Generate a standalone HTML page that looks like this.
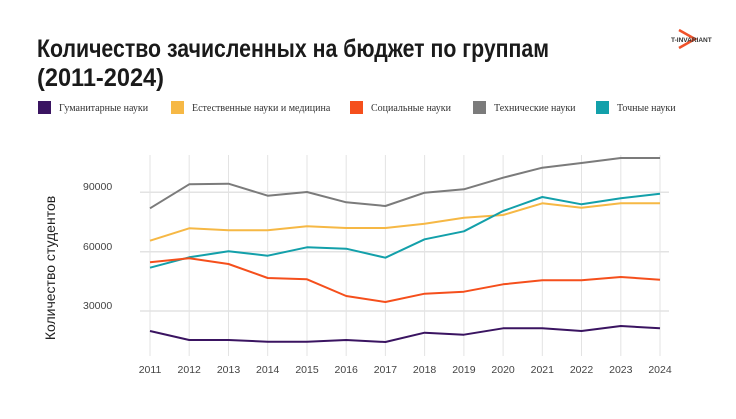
<!DOCTYPE html>
<html><head><meta charset="utf-8"><style>
body{margin:0;background:#fff;width:736px;height:414px;overflow:hidden;font-family:"Liberation Sans",sans-serif}
</style></head><body>
<svg width="736" height="414" xmlns="http://www.w3.org/2000/svg">
<text x="37" y="57" font-family="Liberation Sans, sans-serif" font-size="25" font-weight="bold" fill="#1a1a1a" textLength="512" lengthAdjust="spacingAndGlyphs">Количество зачисленных на бюджет по группам</text>
<text x="37" y="86" font-family="Liberation Sans, sans-serif" font-size="25" font-weight="bold" fill="#1a1a1a" textLength="127" lengthAdjust="spacingAndGlyphs">(2011-2024)</text>
<g transform="translate(671,30)">
<path d="M8 0 L24 9 L8 18" fill="none" stroke="#f0522a" stroke-width="2.5"/>
<text x="0" y="12" font-size="6.5" font-weight="bold" fill="#333">T-INVARIANT</text>
</g>
<g font-family="Liberation Serif, serif" font-size="10" fill="#333">
<rect x="38" y="101" width="13" height="13" fill="#3a1461"/><text x="59" y="111">Гуманитарные науки</text>
<rect x="171" y="101" width="13" height="13" fill="#f6b845"/><text x="192" y="111">Естественные науки и медицина</text>
<rect x="350" y="101" width="13" height="13" fill="#f54f1c"/><text x="371" y="111">Социальные науки</text>
<rect x="473" y="101" width="13" height="13" fill="#7b7b7b"/><text x="494" y="111">Технические науки</text>
<rect x="596" y="101" width="13" height="13" fill="#13a0aa"/><text x="617" y="111">Точные науки</text>
</g>
<g stroke="#e3e3e3" stroke-width="1">
<line x1="150" y1="155" x2="150" y2="356"/><line x1="189.2" y1="155" x2="189.2" y2="356"/><line x1="228.5" y1="155" x2="228.5" y2="356"/><line x1="267.7" y1="155" x2="267.7" y2="356"/><line x1="307" y1="155" x2="307" y2="356"/><line x1="346.2" y1="155" x2="346.2" y2="356"/><line x1="385.4" y1="155" x2="385.4" y2="356"/><line x1="424.6" y1="155" x2="424.6" y2="356"/><line x1="463.9" y1="155" x2="463.9" y2="356"/><line x1="503.1" y1="155" x2="503.1" y2="356"/><line x1="542.3" y1="155" x2="542.3" y2="356"/><line x1="581.5" y1="155" x2="581.5" y2="356"/><line x1="620.8" y1="155" x2="620.8" y2="356"/><line x1="660" y1="155" x2="660" y2="356"/>
<line x1="140" y1="192.3" x2="669" y2="192.3" stroke-width="1.5"/><line x1="140" y1="251.7" x2="669" y2="251.7" stroke-width="1.5"/><line x1="140" y1="311" x2="669" y2="311" stroke-width="1.5"/>
</g>
<g font-size="10.5" fill="#444">
<text x="83" y="190">90000</text><text x="83" y="250">60000</text><text x="83" y="309">30000</text>
</g>
<g font-size="10.5" fill="#444" text-anchor="middle">
<text x="150" y="373">2011</text><text x="189.2" y="373">2012</text><text x="228.5" y="373">2013</text><text x="267.7" y="373">2014</text><text x="307" y="373">2015</text><text x="346.2" y="373">2016</text><text x="385.4" y="373">2017</text><text x="424.6" y="373">2018</text><text x="463.9" y="373">2019</text><text x="503.1" y="373">2020</text><text x="542.3" y="373">2021</text><text x="581.5" y="373">2022</text><text x="620.8" y="373">2023</text><text x="660" y="373">2024</text>
</g>
<text transform="translate(55,268) rotate(-90)" text-anchor="middle" font-size="14" fill="#222">Количество студентов</text>
<g fill="none" stroke-width="2" stroke-linejoin="round">
<polyline stroke="#7b7b7b" points="150,208.3 189.2,184.3 228.5,183.7 267.7,195.7 307,192 346.2,202.3 385.4,206 424.6,192.7 463.9,189.3 503.1,177.7 542.3,167.7 581.5,163 620.8,158 660,158"/>
<polyline stroke="#f6b845" points="150,240.7 189.2,228.3 228.5,230.3 267.7,230.3 307,226.3 346.2,228 385.4,228 424.6,223.7 463.9,217.7 503.1,215 542.3,203.3 581.5,207.7 620.8,203.3 660,203.3"/>
<polyline stroke="#13a0aa" points="150,267.7 189.2,257.3 228.5,251.3 267.7,255.7 307,247.3 346.2,248.7 385.4,257.7 424.6,239.3 463.9,231.3 503.1,211 542.3,197 581.5,204.3 620.8,198.3 660,193.7"/>
<polyline stroke="#f54f1c" points="150,262.3 189.2,258.3 228.5,264 267.7,278 307,279.3 346.2,296 385.4,302 424.6,293.7 463.9,291.7 503.1,284.3 542.3,280.3 581.5,280.3 620.8,277 660,279.7"/>
<polyline stroke="#3a1461" points="150,331 189.2,340 228.5,340 267.7,341.7 307,341.7 346.2,340 385.4,342 424.6,332.7 463.9,334.7 503.1,328.3 542.3,328.3 581.5,331 620.8,326 660,328.3"/>
</g>
</svg>
</body></html>
